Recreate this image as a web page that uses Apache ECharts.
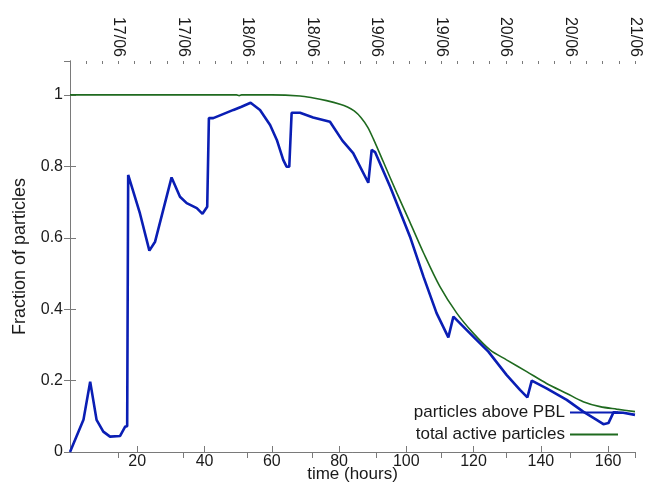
<!DOCTYPE html>
<html>
<head>
<meta charset="utf-8">
<script src="https://cdn.jsdelivr.net/npm/echarts@6/dist/echarts.min.js"></script>
<style>
  html, body { margin: 0; padding: 0; background: #fff; }
  #chart { width: 649px; height: 484px; }
</style>
</head>
<body>
<div id="chart"></div>
<script>
// particles above PBL
var pblHours = [0, 4.0, 6.0, 7.9, 9.9, 11.9, 14.9, 16.4, 17.0, 17.3, 20.8, 23.6, 25.3, 30.2, 32.7, 34.7, 37.7, 39.4, 40.8, 41.3,
  42.6, 48.6, 51.0, 53.7, 56.5, 59.5, 61.5, 63.4, 64.4, 65.2, 65.9, 68.4, 72.3, 77.3, 81.0, 84.2, 88.7, 89.7, 90.7,
  95.2, 101.1, 105.1, 109.0, 112.5, 114.0, 119.9, 124.4, 129.8, 133.8, 136.0, 137.3, 141.7, 147.7, 152.6, 156.6,
  158.6, 160.1, 161.6, 164.5, 168]
var pblValues = [0, 0.09, 0.197, 0.09, 0.057, 0.043, 0.045, 0.071, 0.072, 0.776, 0.668, 0.564, 0.589, 0.769, 0.715, 0.697, 0.683, 0.667, 0.687, 0.935,
  0.935, 0.958, 0.967, 0.978, 0.958, 0.916, 0.874, 0.818, 0.799, 0.799, 0.950, 0.950, 0.937, 0.925, 0.872, 0.837, 0.754, 0.846, 0.84,
  0.743, 0.603, 0.491, 0.389, 0.321, 0.379, 0.323, 0.281, 0.216, 0.174, 0.153, 0.2, 0.178, 0.146, 0.113, 0.09,
  0.078, 0.081, 0.111, 0.11, 0.104]

// total active particles
var totalHours = [0, 49.5, 50.3, 51.0, 60, 68.4, 72, 76.3, 80.3, 82.5, 84.5, 86.5, 88.5, 90.2, 93.2, 97.1, 101.1, 105.1, 110.0, 115.0, 119.9,
  124.9, 129.8, 135.8, 141.7, 147.7, 152.6, 157.6, 162.5, 168]
var totalValues = [1, 1, 0.998, 1, 1, 0.997, 0.992, 0.984, 0.974, 0.966, 0.955, 0.937, 0.91, 0.877, 0.812, 0.727, 0.643, 0.558, 0.463, 0.389, 0.333,
  0.286, 0.258, 0.225, 0.192, 0.164, 0.141, 0.127, 0.12, 0.113]

// date labels on the top axis
var topTicks = [14.4, 33.6, 52.8, 72, 91.2, 110.4, 129.6, 148.8, 168]
var topLabels = ['17/06', '17/06', '18/06', '18/06', '19/06', '19/06', '20/06', '20/06', '21/06']

var bottomTicks = [20, 40, 60, 80, 100, 120, 140, 160]

var pblData = pblHours.map(function (h, i) { return [h, pblValues[i]] })
var totalData = totalHours.map(function (h, i) { return [h, totalValues[i]] })

var font = 'Liberation Sans, Arial, sans-serif'
var frameColor = '#7a7a7a'
var textColor = '#1a1a1a'
var blue = '#0a1eb4'
var green = '#1f6a1f'

var myChart = echarts.init(document.getElementById('chart'))
var option = {
  animation: false,
  backgroundColor: '#ffffff',
  grid: { left: 70, right: 14, top: 61, bottom: 32, outerBoundsMode: 'none', containLabel: false },
  legend: {
    orient: 'vertical',
    right: 31,
    top: 404,
    padding: 0,
    align: 'right',
    icon: 'rect',
    itemWidth: 48,
    itemHeight: 2,
    itemGap: 5,
    textStyle: { fontFamily: font, fontSize: 17, color: textColor },
    data: ['particles above PBL', 'total active particles']
  },
  xAxis: [
    {
      type: 'value',
      position: 'bottom',
      min: 0,
      max: 168,
      name: 'time (hours)',
      nameLocation: 'middle',
      nameGap: 14,
      nameMoveOverlap: false,
      nameTextStyle: { fontFamily: font, fontSize: 17, color: textColor },
      axisLine: { show: true, lineStyle: { color: frameColor, width: 1 } },
      axisTick: { show: true, inside: true, length: 6, customValues: bottomTicks, lineStyle: { color: frameColor } },
      axisLabel: { customValues: bottomTicks, margin: 2, fontFamily: font, fontSize: 16, color: textColor },
      splitLine: { show: false }
    },
    {
      type: 'value',
      position: 'top',
      min: 0,
      max: 168,
      axisLine: { show: true, lineStyle: { color: frameColor, width: 1 } },
      axisTick: { show: true, inside: true, length: 6, customValues: topTicks, lineStyle: { color: frameColor } },
      axisLabel: {
        customValues: topTicks,
        rotate: -90,
        margin: 4,
        fontFamily: font,
        fontSize: 16,
        color: textColor,
        formatter: function (value) {
          var i = topTicks.indexOf(value)
          return i > -1 ? topLabels[i] : ''
        }
      },
      splitLine: { show: false }
    },
    {
      // minor ticks of the top axis
      type: 'value',
      position: 'top',
      min: 0,
      max: 168,
      interval: 4.8,
      axisLine: { show: false },
      axisTick: { show: true, inside: true, length: 3, lineStyle: { color: frameColor } },
      axisLabel: { show: false },
      splitLine: { show: false }
    }
  ],
  yAxis: [
    {
      type: 'value',
      position: 'left',
      min: 0,
      max: 1.095,
      interval: 0.2,
      name: 'Fraction of particles',
      nameLocation: 'middle',
      nameGap: 41,
      nameMoveOverlap: false,
      nameTextStyle: { fontFamily: font, fontSize: 18, color: textColor },
      axisLine: { show: true, lineStyle: { color: frameColor, width: 1 } },
      axisTick: { show: true, inside: true, length: 6, lineStyle: { color: frameColor } },
      axisLabel: { margin: 7, showMaxLabel: false, fontFamily: font, fontSize: 16, color: textColor },
      splitLine: { show: false }
    },
    {
      type: 'value',
      position: 'right',
      min: 0,
      max: 1.095,
      interval: 0.2,
      axisLine: { show: true, lineStyle: { color: frameColor, width: 1 } },
      axisTick: { show: true, inside: true, length: 6, lineStyle: { color: frameColor } },
      axisLabel: { show: false },
      splitLine: { show: false }
    }
  ],
  series: [
    {
      name: 'total active particles',
      type: 'line',
      xAxisIndex: 0,
      yAxisIndex: 0,
      data: totalData,
      symbol: 'none',
      smooth: 0.3,
      lineStyle: { color: green, width: 1.6 },
      itemStyle: { color: green },
      z: 2
    },
    {
      name: 'particles above PBL',
      type: 'line',
      xAxisIndex: 0,
      yAxisIndex: 0,
      data: pblData,
      symbol: 'none',
      lineStyle: { color: blue, width: 2.6 },
      itemStyle: { color: blue },
      z: 3
    }
  ]
}
myChart.setOption(option, true)
window.addEventListener('resize', () => {
  myChart.resize()
})
</script>
</body>
</html>
